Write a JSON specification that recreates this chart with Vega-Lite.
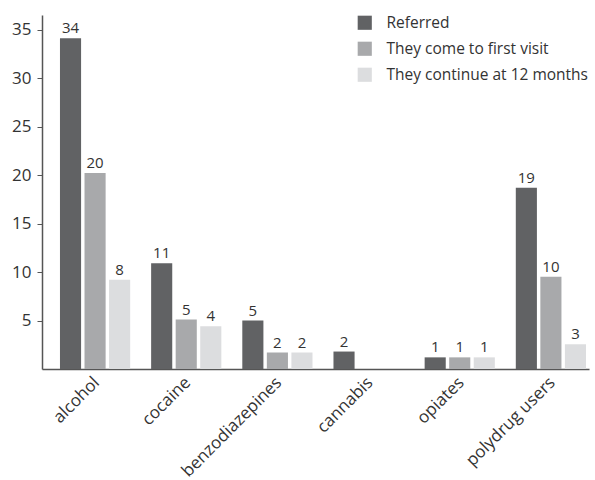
{
  "$schema": "https://vega.github.io/schema/vega-lite/v6.json",
  "width": 547,
  "height": 354,
  "autosize": {"type": "none"},
  "padding": {"left": 42, "top": 15, "right": 6, "bottom": 111},
  "background": "white",
  "config": {
    "view": {"stroke": null},
    "font": "Open Sans",
    "axis": {"labelFont": "Open Sans", "labelColor": "#333333", "grid": false}
  },
  "data": {
    "values": [
      {"category": "alcohol", "series": "Referred", "value": 34.1, "label": "34"},
      {"category": "alcohol", "series": "They come to first visit", "value": 20.2, "label": "20"},
      {"category": "alcohol", "series": "They continue at 12 months", "value": 9.2, "label": "8"},
      {"category": "cocaine", "series": "Referred", "value": 10.9, "label": "11"},
      {"category": "cocaine", "series": "They come to first visit", "value": 5.1, "label": "5"},
      {"category": "cocaine", "series": "They continue at 12 months", "value": 4.4, "label": "4"},
      {"category": "benzodiazepines", "series": "Referred", "value": 5.0, "label": "5"},
      {"category": "benzodiazepines", "series": "They come to first visit", "value": 1.7, "label": "2"},
      {"category": "benzodiazepines", "series": "They continue at 12 months", "value": 1.7, "label": "2"},
      {"category": "cannabis", "series": "Referred", "value": 1.8, "label": "2"},
      {"category": "opiates", "series": "Referred", "value": 1.2, "label": "1"},
      {"category": "opiates", "series": "They come to first visit", "value": 1.2, "label": "1"},
      {"category": "opiates", "series": "They continue at 12 months", "value": 1.2, "label": "1"},
      {"category": "polydrug users", "series": "Referred", "value": 18.7, "label": "19"},
      {"category": "polydrug users", "series": "They come to first visit", "value": 9.5, "label": "10"},
      {"category": "polydrug users", "series": "They continue at 12 months", "value": 2.55, "label": "3"}
    ]
  },
  "encoding": {
    "x": {
      "field": "category",
      "type": "nominal",
      "sort": ["alcohol", "cocaine", "benzodiazepines", "cannabis", "opiates", "polydrug users"],
      "scale": {"paddingInner": 0.23, "paddingOuter": 0.115, "align": 0.857},
      "axis": {
        "title": null,
        "labelAngle": -45,
        "labelFontSize": 17,
        "ticks": false,
        "labelPadding": 5,
        "labelOffset": -4,
        "labelLimit": 300,
        "domainColor": "#555555",
        "domainWidth": 1.5
      }
    },
    "xOffset": {
      "field": "series",
      "type": "nominal",
      "sort": ["Referred", "They come to first visit", "They continue at 12 months"],
      "scale": {"paddingInner": 0.14, "paddingOuter": 0}
    },
    "y": {
      "field": "value",
      "type": "quantitative",
      "scale": {"domain": [0, 36.5], "nice": false},
      "axis": {
        "title": null,
        "values": [5, 10, 15, 20, 25, 30, 35],
        "labelFontSize": 17,
        "tickSize": 5,
        "tickColor": "#555555",
        "labelPadding": 6,
        "domainColor": "#555555",
        "domainWidth": 1.5
      }
    }
  },
  "layer": [
    {
      "mark": {"type": "bar"},
      "encoding": {
        "color": {
          "field": "series",
          "type": "nominal",
          "sort": ["Referred", "They come to first visit", "They continue at 12 months"],
          "scale": {
            "domain": ["Referred", "They come to first visit", "They continue at 12 months"],
            "range": ["#616264", "#a8a9ab", "#dcdddf"]
          },
          "legend": {
            "title": null,
            "orient": "none",
            "legendX": 315,
            "legendY": 0,
            "symbolType": "square",
            "symbolSize": 200,
            "symbolStrokeWidth": 0,
            "labelFontSize": 15.5,
            "labelLimit": 400,
            "labelColor": "#333333",
            "labelOffset": 14,
            "rowPadding": 9
          }
        }
      }
    },
    {
      "mark": {"type": "text", "baseline": "bottom", "dy": -2, "fontSize": 15, "color": "#333333"},
      "encoding": {"text": {"field": "label"}}
    }
  ]
}
